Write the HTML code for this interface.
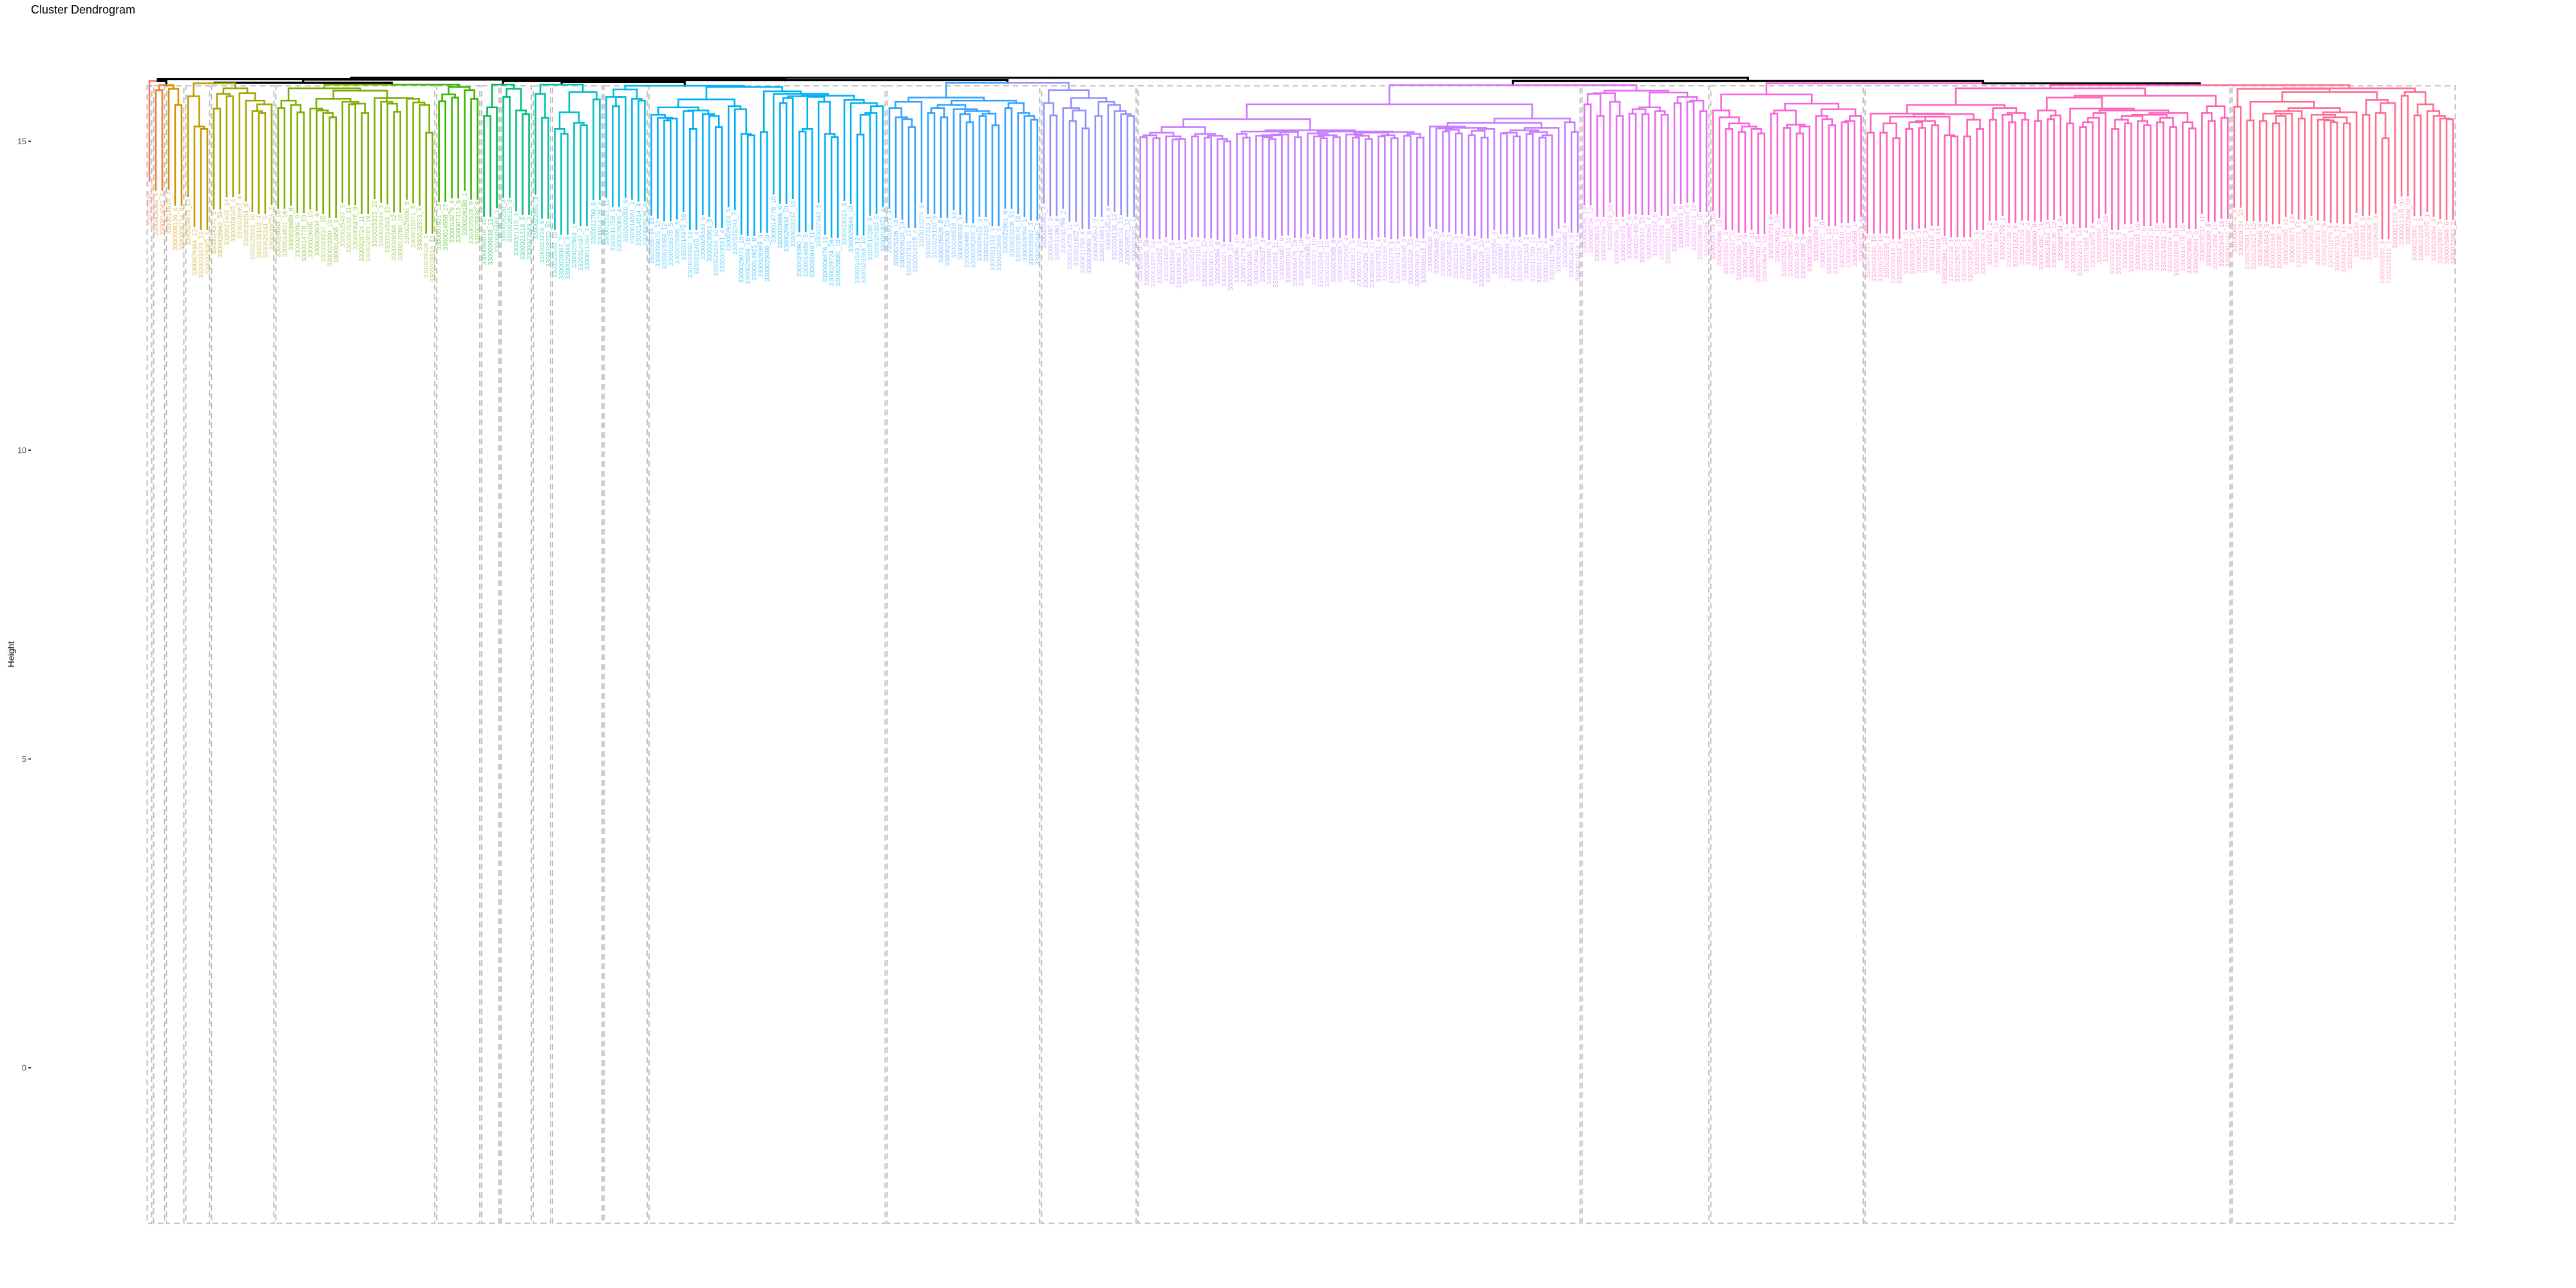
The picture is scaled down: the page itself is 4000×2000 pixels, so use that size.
<!DOCTYPE html>
<html><head><meta charset="utf-8"><title>Cluster Dendrogram</title>
<style>
html,body{margin:0;padding:0;background:#fff;}
svg{display:block;font-family:"Liberation Sans",sans-serif;}
</style></head>
<body>
<svg id="chart" width="4000" height="2000" viewBox="0 0 4000 2000" xmlns="http://www.w3.org/2000/svg">
<rect x="0" y="0" width="4000" height="2000" fill="#ffffff"/>
<text x="48" y="21" font-size="18" fill="#000">Cluster Dendrogram</text>
<text transform="translate(22,1016) rotate(-90)" text-anchor="middle" font-size="14" fill="#000">Height</text>
<g id="axis"></g>
<g id="rects"></g>
<g id="branches"></g>
<g id="labels"></g>
</svg>
<script>
// ---- data ----
const clusterSizes = [1,2,3,4,10,25,7,3,5,3,8,7,37,24,15,69,20,24,57,35];
const clusterColors = ["#F8766D","#EA8331","#D89000","#C09B00","#A3A500","#7CAE00","#39B600","#00BB4E","#00BF7D","#00C1A3","#00BFC4","#00BAE0","#00B0F6","#35A2FF","#9590FF","#C77CFF","#E76BF3","#FA62DB","#FF62BC","#FF6C91"];
const betweenHeights = [15.98,15.91,16.01,15.94,15.95,15.92,16.00,15.92,15.98,15.92,15.96,15.90,15.99,15.95,16.03,15.91,15.98,15.94,15.91];
const inner1 = [];
const inner2 = [15.83];
const inner3 = [15.85,15.59];
const inner4 = [15.73,15.24,15.20];
const inner5 = [15.53,15.77,15.73,15.86,15.78,15.66,15.49,15.46,15.60];
const inner6 = [15.54,15.66,15.59,15.47,15.86,15.53,15.50,15.46,15.39,15.69,15.64,15.60,15.61,15.46,15.82,15.70,15.64,15.61,15.48,15.70,15.69,15.63,15.59,15.14];
const inner7 = [15.65,15.76,15.71,15.88,15.83,15.69];
const inner8 = [15.41,15.55];
const inner9 = [15.72,15.85,15.50,15.44];
const inner10 = [15.77,15.38];
const inner11 = [15.20,15.12,15.47,15.30,15.26,15.80,15.68];
const inner12 = [15.72,15.57,15.72,15.84,15.69,15.66];
const inner13 = [15.43,15.38,15.34,15.37,15.55,15.49,15.20,15.50,15.44,15.41,15.23,15.68,15.57,15.52,15.12,15.10,15.88,15.15,15.81,15.77,15.62,15.70,15.73,15.16,15.20,15.72,15.64,15.12,15.07,15.74,15.67,15.62,15.11,15.43,15.46,15.57];
const inner14 = [15.54,15.39,15.36,15.23,15.64,15.71,15.46,15.54,15.39,15.59,15.52,15.44,15.31,15.49,15.41,15.45,15.26,15.66,15.54,15.62,15.46,15.41,15.35];
const inner15 = [15.62,15.42,15.83,15.54,15.33,15.50,15.21,15.70,15.41,15.64,15.59,15.49,15.44,15.41];
const inner16 = [15.07,15.10,15.05,15.14,15.08,15.03,15.04,15.23,15.08,15.12,15.06,15.09,15.04,15.00,
 15.36,
 15.12,15.06,15.16,15.09,15.07,15.04,15.10,15.11,15.15,15.07,15.18,15.13,15.08,15.05,15.10,15.07,15.16,15.11,15.06,15.09,15.04,15.14,15.08,15.10,15.05,15.15,15.09,15.12,15.06,
 15.60,
 15.24,15.21,15.16,15.19,15.13,15.22,15.10,15.17,15.06,15.20,15.30,15.13,15.14,15.08,15.18,15.12,15.15,15.06,15.10,15.22,
 15.37,
 15.31,15.15];
const inner17 = [15.60,15.77,15.41,15.78,15.64,15.41,15.82,15.45,15.52,15.44,15.55,15.49,15.43,15.79,15.62,15.72,15.64,15.66,15.49];
const inner18 = [15.50,15.39,15.20,15.29,15.15,15.24,15.20,15.13,15.76,15.45,15.50,15.22,15.27,15.13,15.24,15.61,15.41,15.36,15.26,15.52,15.31,15.33,15.41];
const inner19 = [15.14,15.45,15.14,15.29,15.05,15.40,15.20,15.31,15.22,15.33,15.26,15.40,15.10,15.08,15.44,15.08,15.35,15.20,15.59,15.35,15.54,15.43,15.31,15.46,15.35,
 15.86,
 15.33,15.50,15.36,15.42,15.71,15.29,15.53,15.23,15.31,15.38,15.46,15.50,15.20,15.35,15.29,15.41,15.33,15.26,15.43,15.31,15.38,15.23,15.46,15.31,15.21,15.74,15.46,15.33,15.57,15.38];
const inner20 = [15.56,15.85,15.34,15.64,15.33,15.45,15.29,15.41,15.45,15.49,15.37,15.54,15.43,15.35,15.34,15.31,15.39,15.29,15.47,15.80,15.43,15.67,15.46,15.05,15.62,15.86,15.74,15.80,15.42,15.60,15.49,15.41,15.37,15.36];
const innerHeights = [inner1,inner2,inner3,inner4,inner5,inner6,inner7,inner8,inner9,inner10,inner11,inner12,inner13,inner14,inner15,inner16,inner17,inner18,inner19,inner20];
const labelIds = ["3300029065","3300009060","3300014561","3300014514","3300008136","3300008734","3300029875","3300029384","3300029379","3300029385","3300014970","3300028992","3300021400","3300029340","3300028963","3300029254","3300029581","3300029103","3300029241","3300029073","3300029084","3300014921","3300028989","3300029086","3300014778","3300029686","3300029934","3300029237","3300029390","3300014956","3300029487","3300007043","3300006476","3300029724","3300029081","3300029323","3300029546","3300014543","3300029368","3300010280","3300029080","3300019371","3300019373","3300029326","3300029510","3300007921","3300014558","3300010279","3300007313","3300029190","3300025528","3300025530","3300008518","3300008638","3300006488","3300006250","3300028515","3300021310","3300021318","3300022849","3300022861","3300023228","3300028070","3300028084","3300028087","3300025846","3300022963","3300014497","3300011360","3300011799","3300014728","3300011822","3300011759"];
const labelSuffix = [1,4,6,2,4,8,13,13,12,5,5,59,14,4,6,8,10,4,5,7,10,16,8,9,10,10,6,10,10,3,5,11,9,11,19,10,8,10,12,10,9,5,4,3,10,13,17,4,6,1,9,8,15,13,3,3,3,3,3,3,3,9,91,10,1,3,1,4,3,6,2,11];
const yTicks = [0,5,10,15];

// ---- scales ----
const X0 = 227, X1 = 3814;
const nLeaves = clusterSizes.reduce((a,b)=>a+b,0);
const step = (X1 - X0) / nLeaves;
function xPos(i){ return X0 + (i + 0.5) * step; }
function yPos(h){ return 1658 - h * 95.9; }
const HANG = 1.62, RECT_TOP = 15.9, RECT_BOTTOM = -2.52;
const NS = "http://www.w3.org/2000/svg";

// ---- axis ----
const axisG = document.getElementById('axis');
yTicks.forEach(t => {
  const y = yPos(t);
  const tl = document.createElementNS(NS,'line');
  tl.setAttribute('x1',44); tl.setAttribute('x2',48); tl.setAttribute('y1',y); tl.setAttribute('y2',y);
  tl.setAttribute('stroke','#333'); tl.setAttribute('stroke-width','2');
  
  
  axisG.appendChild(tl);
  const tx = document.createElementNS(NS,'text');
  tx.setAttribute('x',41); tx.setAttribute('y',y+4.5); tx.setAttribute('text-anchor','end');
  tx.setAttribute('font-size','12.5'); tx.setAttribute('fill','#4d4d4d');
  tx.textContent = String(t);
  
  
  axisG.appendChild(tx);
});

// ---- build leaf info and gaps ----
const leafCluster = [];
const gaps = [];
clusterSizes.forEach((sz, c) => {
  for (let k = 0; k < sz; k++) leafCluster.push(c);
  innerHeights[c].forEach(h => gaps.push(h));
  if (c < clusterSizes.length - 1) gaps.push(betweenHeights[c]);
});

function build(l, r){
  if (l === r) return {leaf:true, x:xPos(l), idx:l, cl:leafCluster[l]};
  let k = l, best = -Infinity;
  for (let i = l; i < r; i++) if (gaps[i] > best){ best = gaps[i]; k = i; }
  const L = build(l, k), R = build(k+1, r);
  return {leaf:false, x:(L.x+R.x)/2, h:best, L:L, R:R, cl:(L.cl===R.cl?L.cl:-1)};
}
const root = build(0, nLeaves-1);

// ---- rectangles ----
const rectG = document.getElementById('rects');
let start = 0;
clusterSizes.forEach((sz, c) => {
  const xl = xPos(start) - step*0.5 + 1.5, xr = xPos(start+sz-1) + step*0.5 - 1.5;
  const rc = document.createElementNS(NS,'rect');
  rc.setAttribute('x', xl); rc.setAttribute('y', yPos(RECT_TOP));
  rc.setAttribute('width', Math.max(1, xr-xl)); rc.setAttribute('height', yPos(RECT_BOTTOM)-yPos(RECT_TOP));
  rc.setAttribute('fill','none'); rc.setAttribute('stroke','#bdbdbd'); rc.setAttribute('stroke-width','2');
  rc.setAttribute('stroke-dasharray','9 6');
  
  
  rectG.appendChild(rc);
  start += sz;
});

// ---- branches & labels ----
const brG = document.getElementById('branches');
const lbG = document.getElementById('labels');
function draw(node){
  if (node.leaf) return;
  [node.L, node.R].forEach(ch => {
    const col = ch.cl >= 0 ? clusterColors[ch.cl] : '#000';
    const yTop = yPos(node.h);
    const yBot = ch.leaf ? yPos(node.h - HANG) : yPos(ch.h);
    const p = document.createElementNS(NS,'path');
    p.setAttribute('d', 'M'+node.x.toFixed(2)+' '+yTop.toFixed(2)+' H'+ch.x.toFixed(2)+' V'+yBot.toFixed(2));
    p.setAttribute('fill','none'); p.setAttribute('stroke', col);
    p.setAttribute('stroke-width', ch.cl >= 0 ? '2.6' : '3.2');
    p.setAttribute('stroke-linecap','square');
    
    
    brG.appendChild(p);
    if (ch.leaf){
      const t = document.createElementNS(NS,'text');
      const lab = labelIds[ch.idx % labelIds.length] + '_' + labelSuffix[ch.idx % labelSuffix.length];
      t.setAttribute('transform','translate('+(ch.x+3.5).toFixed(2)+','+(yBot+4).toFixed(2)+') rotate(-90)');
      t.setAttribute('text-anchor','end');
      t.setAttribute('font-size','10');
      t.setAttribute('fill', clusterColors[ch.cl]);
      t.setAttribute('fill-opacity','0.6');
      t.textContent = lab;
      
      
      lbG.appendChild(t);
    } else draw(ch);
  });
}
draw(root);
</script>
</body></html>
